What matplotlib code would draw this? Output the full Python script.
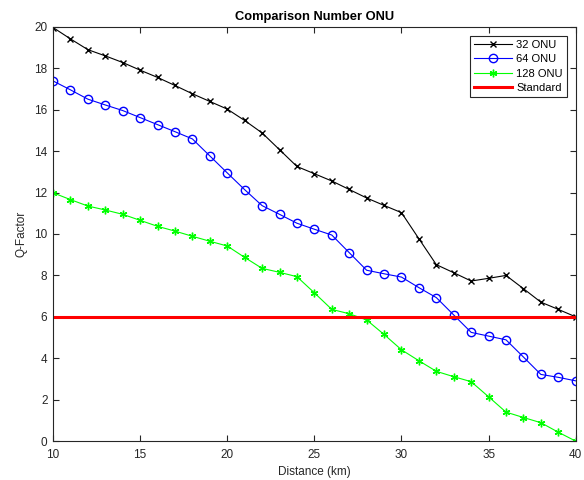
import numpy as np
import matplotlib.pyplot as plt

plt.rcParams['font.family'] = ['Liberation Sans', 'DejaVu Sans']

distance = np.arange(10, 41)

q_32 = [19.97, 19.42, 18.9, 18.6, 18.28, 17.91, 17.56, 17.17, 16.77, 16.4,
        16.03, 15.48, 14.88, 14.07, 13.26, 12.91, 12.56, 12.15, 11.74, 11.38,
        11.03, 9.77, 8.52, 8.13, 7.73, 7.86, 8.0, 7.36, 6.71, 6.36, 6.0]
q_64 = [17.39, 16.96, 16.51, 16.23, 15.96, 15.62, 15.28, 14.94, 14.59, 13.77,
        12.95, 12.14, 11.37, 10.95, 10.52, 10.23, 9.95, 9.1, 8.25, 8.08,
        7.92, 7.41, 6.93, 6.09, 5.25, 5.07, 4.89, 4.06, 3.22, 3.08, 2.91]
q_128 = [11.99, 11.66, 11.35, 11.16, 10.95, 10.66, 10.37, 10.14, 9.89, 9.65,
         9.42, 8.87, 8.34, 8.15, 7.94, 7.16, 6.36, 6.15, 5.85, 5.15,
         4.41, 3.88, 3.37, 3.11, 2.87, 2.14, 1.4, 1.14, 0.89, 0.43, 0.0]
standard = 6

fig = plt.figure(figsize=(5.84, 4.8), dpi=100)
ax = fig.add_axes([0.0908, 0.081, 0.895, 0.863])

ax.plot(distance, q_32, color='k', marker='x', markersize=4.5, mew=1, lw=0.8,
        label='32 ONU')
ax.plot(distance, q_64, color='b', marker='o', markersize=6, mfc='none', mew=1,
        lw=0.8, label='64 ONU')
ax.plot(distance, q_128, color='#00ff00', marker=(6, 2, 0), markersize=5.5, mew=1,
        lw=0.8, label='128 ONU')
ax.axhline(standard, color='r', lw=2.2, label='Standard')

ax.set_xlim(10, 40)
ax.set_ylim(0, 20)
ax.set_xticks(np.arange(10, 41, 5))
ax.set_yticks(np.arange(0, 21, 2))
ax.tick_params(direction='in', top=True, right=True, labelsize=8.5,
               colors='#262626', length=4.5)
ax.tick_params(axis='x', pad=6)
ax.tick_params(axis='y', pad=4)
for s in ax.spines.values():
    s.set_color('#262626')
    s.set_linewidth(0.8)

ax.set_title('Comparison Number ONU', fontsize=9.3, fontweight='bold', pad=5)
ax.set_xlabel('Distance (km)', fontsize=8.5, color='#262626', labelpad=3)
ax.set_ylabel('Q-Factor', fontsize=8.5, color='#262626', labelpad=5)

leg = ax.legend(loc='upper right', fontsize=8, fancybox=False, edgecolor='#262626',
                framealpha=1, handlelength=3.4, borderpad=0.35, labelspacing=0.4,
                borderaxespad=0.8, handletextpad=0.4)
leg.get_frame().set_linewidth(0.8)

fig.savefig('out.png', dpi=100)
